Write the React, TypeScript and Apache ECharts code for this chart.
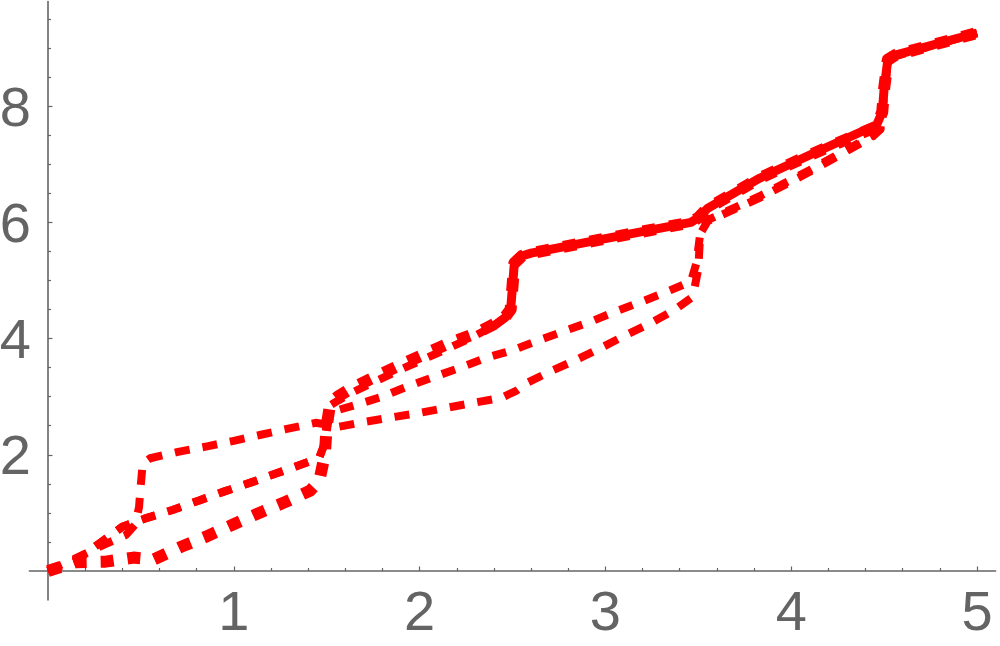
import React, { useEffect, useRef } from 'react';
import * as echarts from 'echarts';

type Pt = [number, number];

// Curve with the early jump at x = 0.5 (medium dashes)
const curveA: Pt[] = [
  [0, 0], [0.15, 0.22], [0.3, 0.45], [0.42, 0.62], [0.47, 0.8], [0.49, 1.1], [0.5, 1.5],
  [0.51, 1.85], [0.55, 1.94], [0.7, 2.05], [0.85, 2.14], [1.0, 2.24], [1.14, 2.34],
  [1.28, 2.44], [1.44, 2.55], [1.5, 2.52], [1.56, 2.48], [1.71, 2.57], [1.86, 2.65],
  [2.0, 2.72], [2.15, 2.81], [2.3, 2.9], [2.44, 2.98], [2.52, 3.1], [2.58, 3.24],
  [2.7, 3.43], [2.84, 3.63], [2.97, 3.83], [3.11, 4.06], [3.24, 4.26], [3.37, 4.49],
  [3.47, 4.72], [3.5, 5.2], [3.51, 5.8], [3.55, 6.02], [3.83, 6.42], [4.1, 6.87],
  [4.44, 7.48], [4.48, 7.6], [4.5, 8.2], [4.52, 8.75], [4.56, 8.86], [5, 9.26],
];

// Middle curve (medium dashes)
const curveB: Pt[] = [
  [0, 0], [0.15, 0.18], [0.28, 0.48], [0.4, 0.76], [0.52, 0.9], [0.67, 1.05], [0.81, 1.21],
  [0.95, 1.37], [1.09, 1.52], [1.23, 1.68], [1.37, 1.84], [1.46, 1.95], [1.49, 2.2],
  [1.51, 2.6], [1.55, 2.76], [1.66, 2.86], [1.8, 3.0], [1.93, 3.17], [2.06, 3.32],
  [2.21, 3.49], [2.35, 3.66], [2.5, 3.8], [2.64, 3.97], [2.77, 4.12], [2.92, 4.29],
  [3.05, 4.46], [3.2, 4.64], [3.34, 4.82], [3.46, 4.98], [3.49, 5.3], [3.51, 5.8],
  [3.55, 6.04], [3.83, 6.45], [4.1, 6.9], [4.44, 7.5], [4.48, 7.6], [4.5, 8.2],
  [4.52, 8.75], [4.56, 8.86], [5, 9.26],
];

// Lowest curve near the origin (thick, square dashes)
const curveC: Pt[] = [
  [0, 0], [0.15, 0.15], [0.31, 0.16], [0.46, 0.23], [0.57, 0.2], [0.72, 0.42], [0.85, 0.59],
  [0.99, 0.79], [1.13, 0.99], [1.28, 1.19], [1.41, 1.38], [1.46, 1.55], [1.49, 2.0],
  [1.5, 2.5], [1.52, 2.9], [1.56, 3.0], [1.63, 3.14], [1.76, 3.34], [1.9, 3.55],
  [2.04, 3.75], [2.16, 3.92], [2.31, 4.1], [2.45, 4.33], [2.49, 4.5], [2.5, 4.9],
  [2.51, 5.3], [2.55, 5.42], [2.6, 5.47], [3.0, 5.72], [3.46, 6.0], [3.5, 6.08],
  [3.55, 6.24], [3.83, 6.76], [4.1, 7.16], [4.46, 7.65], [4.49, 7.9], [4.5, 8.3],
  [4.52, 8.8], [4.56, 8.88], [5, 9.26],
];

// Upper curve: dashed part (follows the middle curve before x = 1.5)
const curveDdashed: Pt[] = [
  [0, 0], [0.15, 0.18], [0.28, 0.48], [0.4, 0.76], [0.52, 0.9], [0.67, 1.05], [0.81, 1.21],
  [0.95, 1.37], [1.09, 1.52], [1.23, 1.68], [1.37, 1.84], [1.46, 1.95], [1.49, 2.2],
  [1.5, 2.6], [1.52, 2.85], [1.56, 2.93], [1.63, 3.06], [1.76, 3.26], [1.9, 3.47],
  [2.04, 3.67], [2.16, 3.84], [2.27, 4.0], [2.4, 4.22],
];
// Upper curve: solid part
const curveDsolid: Pt[] = [
  [2.4, 4.22], [2.46, 4.36], [2.49, 4.5], [2.5, 4.9], [2.51, 5.3], [2.55, 5.42],
  [2.6, 5.47], [3.0, 5.72], [3.46, 6.0], [3.5, 6.08], [3.55, 6.24], [3.83, 6.76],
  [4.1, 7.16], [4.46, 7.68], [4.49, 7.9], [4.5, 8.3], [4.52, 8.8], [4.56, 8.88], [5, 9.26],
];

const xMajorTicks = [1, 2, 3, 4, 5];
const xMinorTicks = [
  0.2, 0.4, 0.6, 0.8, 1.2, 1.4, 1.6, 1.8, 2.2, 2.4, 2.6, 2.8,
  3.2, 3.4, 3.6, 3.8, 4.2, 4.4, 4.6, 4.8,
];
const yMajorTicks = [2, 4, 6, 8];
const yMinorTicks = [0.5, 1, 1.5, 2.5, 3, 3.5, 4.5, 5, 5.5, 6.5, 7, 7.5, 8.5, 9, 9.5];

const AXIS_COLOR = '#646464';
const RED = '#ff0000';

export default function App() {
  const ref = useRef<HTMLDivElement>(null);

  useEffect(() => {
    if (!ref.current) return;
    const chart = echarts.init(ref.current, undefined, { renderer: 'svg' });

    const labelStyle = {
      color: AXIS_COLOR,
      fontSize: 56,
      fontFamily: 'Liberation Sans, Arial, Helvetica, sans-serif',
    };

    const lineSeries = (name: string, data: Pt[], width: number, type: any) => ({
      name,
      type: 'line',
      data,
      showSymbol: false,
      symbol: 'none',
      clip: false,
      lineStyle: { color: RED, width, type, cap: 'butt', join: 'round' },
      xAxisIndex: 0,
      yAxisIndex: 0,
    });

    chart.setOption({
      animation: false,
      backgroundColor: '#ffffff',
      grid: {
        left: 29.4,
        top: 1.6,
        width: 966.2,
        height: 598.4,
        containLabel: false,
        outerBoundsMode: 'none',
      },
      xAxis: [
        {
          type: 'value',
          min: -0.1,
          max: 5.1,
          position: 'bottom',
          axisLine: { show: true, onZero: true, lineStyle: { color: AXIS_COLOR, width: 1.6 } },
          axisTick: {
            show: true,
            inside: true,
            length: 3,
            customValues: xMinorTicks,
            lineStyle: { color: AXIS_COLOR, width: 1.2 },
          },
          axisLabel: {
            show: true,
            customValues: xMajorTicks,
            margin: -18,
            ...labelStyle,
            formatter: (v: number) => String(v),
          },
          splitLine: { show: false },
        },
        {
          type: 'value',
          min: -0.1,
          max: 5.1,
          position: 'bottom',
          axisLine: { show: false, onZero: true, onZeroAxisIndex: 0 },
          axisTick: {
            show: true,
            inside: true,
            length: 4.5,
            customValues: xMajorTicks,
            lineStyle: { color: AXIS_COLOR, width: 1.2 },
          },
          axisLabel: { show: false },
          splitLine: { show: false },
        },
      ],
      yAxis: [
        {
          type: 'value',
          min: -0.5,
          max: 9.8,
          position: 'left',
          axisLine: { show: true, onZero: true, lineStyle: { color: AXIS_COLOR, width: 1.6 } },
          axisTick: {
            show: true,
            inside: true,
            length: 3,
            customValues: yMinorTicks,
            lineStyle: { color: AXIS_COLOR, width: 1.2 },
          },
          axisLabel: {
            show: true,
            customValues: yMajorTicks,
            margin: -1.6,
            ...labelStyle,
            formatter: (v: number) => String(v),
          },
          splitLine: { show: false },
        },
        {
          type: 'value',
          min: -0.5,
          max: 9.8,
          position: 'left',
          axisLine: { show: false, onZero: true, onZeroAxisIndex: 0 },
          axisTick: {
            show: true,
            inside: true,
            length: 4.5,
            customValues: yMajorTicks,
            lineStyle: { color: AXIS_COLOR, width: 1.2 },
          },
          axisLabel: { show: false },
          splitLine: { show: false },
        },
      ],
      series: [
        lineSeries('A', curveA, 8, [15, 13]),
        lineSeries('B', curveB, 8, [14, 13]),
        lineSeries('C', curveC, 12, [13, 14]),
        lineSeries('D dashed', curveDdashed, 8, [14, 13]),
        lineSeries('D solid', curveDsolid, 9, 'solid'),
      ],
    });

    return () => chart.dispose();
  }, []);

  return (
    <div
      ref={ref}
      style={{ position: 'fixed', left: 0, top: 0, width: 1000, height: 646, background: '#fff' }}
    />
  );
}
